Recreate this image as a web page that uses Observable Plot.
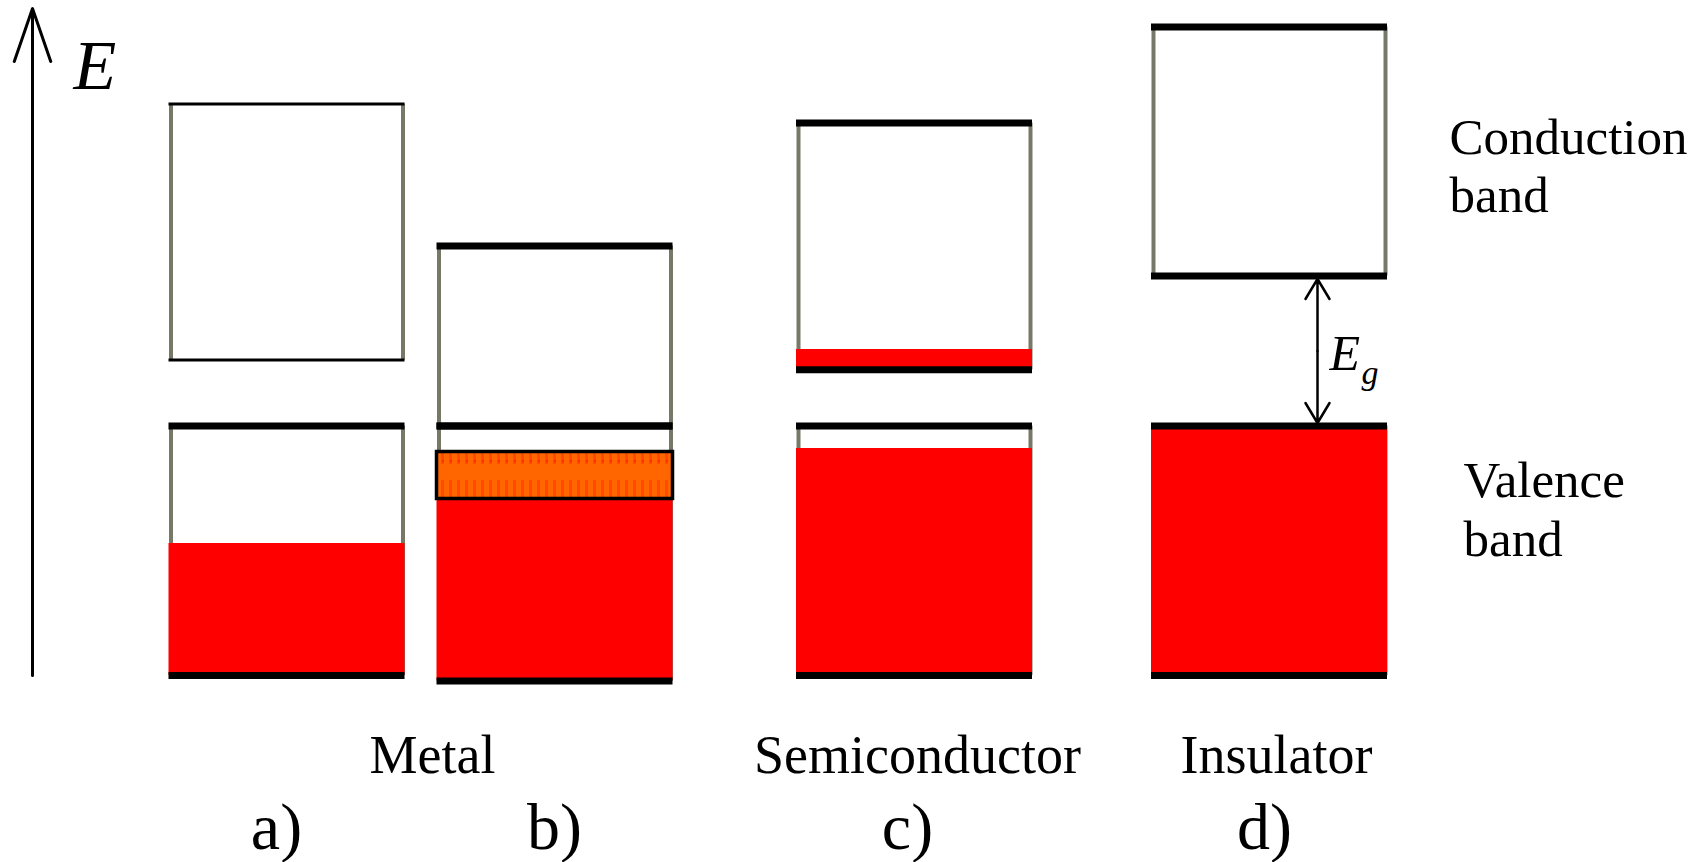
<!DOCTYPE html>
<html><head><meta charset="utf-8">
<script src="https://cdn.jsdelivr.net/npm/d3@7"></script>
<script src="https://cdn.jsdelivr.net/npm/@observablehq/plot@0.6"></script>
<style>
html,body{margin:0;padding:0;background:#fff;}
#chart svg{display:block;}
#chart svg text{font-family:"Liberation Serif","Times New Roman",serif !important;}
g[aria-label="class-labels"] text{letter-spacing:1.5px;}
g[aria-label="band-labels"] text{letter-spacing:1px;}
g[aria-label="panel-labels"] text{letter-spacing:2px;}
</style></head>
<body><div id="chart"></div>
<script>
// ---- data (energy in arbitrary units, valence bottom = 0) ----
const materials = ["a)", "b)", "c)", "d)"];
const materialClass = ["Metal", "Semiconductor", "Insulator"];
const conductionBottom = [3.155, 2.495, 3.057, 3.995];
const conductionTop = [5.715, 4.295, 5.525, 6.485];
const valenceBottom = [0, -0.055, 0, 0];
const valenceTop = [2.495, 2.495, 2.495, 2.495];
const valenceFilled = [1.32, 1.75, 2.27, 2.495];
const conductionFilled = [null, null, 3.26, null];
const overlapBand = [null, [1.765, 2.235], null, null];
const bandNames = ["Conduction\nband", "Valence\nband"];
const energyAxisTop = 6.67;

// ---- layout (positions, not data) ----
const colCenter = [2.865, 5.545, 9.14, 12.69];
const colWidth = 2.36;
const classLabelX = [4.32, 9.17, 12.76];
const panelLabelX = [2.76, 5.54, 9.07, 12.64];
const L = i => colCenter[i] - colWidth / 2;
const R = i => colCenter[i] + colWidth / 2;

const boxes = materials.flatMap((m, i) => [
  {i, band: "conduction", y1: conductionBottom[i], y2: conductionTop[i], thin: i === 0},
  {i, band: "valence", y1: valenceBottom[i], y2: valenceTop[i], thin: false}
]);
const edges = boxes.flatMap(b => [{...b, y: b.y1}, {...b, y: b.y2}]);
const fills = [];
materials.forEach((m, i) => {
  fills.push({i, y1: valenceBottom[i], y2: valenceFilled[i]});
  if (conductionFilled[i] != null) fills.push({i, y1: conductionBottom[i], y2: conductionFilled[i]});
});
const overlaps = overlapBand.map((o, i) => o ? {i, y1: o[0], y2: o[1]} : null).filter(d => d);
const egMid = (conductionBottom[3] + valenceTop[3]) / 2;

const font = "Liberation Serif";

const chart = Plot.plot({
  width: 1704, height: 862, margin: 0,
  x: {domain: [0, 17.04], axis: null},
  y: {domain: [-1.87, 6.75], axis: null},
  style: {background: "#fff"},
  marks: [
    // side borders
    Plot.ruleX(boxes, {x: d => L(d.i), y1: "y1", y2: "y2", dx: 2, stroke: "#787868", strokeWidth: 4}),
    Plot.ruleX(boxes, {x: d => R(d.i), y1: "y1", y2: "y2", dx: -2, stroke: "#787868", strokeWidth: 4}),
    // occupied states
    Plot.rect(fills, {x1: d => L(d.i), x2: d => R(d.i), y1: "y1", y2: "y2", fill: "#ff0000"}),
    Plot.rect(overlaps, {x1: d => L(d.i), x2: d => R(d.i), y1: "y1", y2: "y2", fill: "url(#orangeDither)", stroke: "#000", strokeWidth: 3.5}),
    // band edges
    Plot.ruleY(edges, {y: "y", x1: d => L(d.i), x2: d => R(d.i), stroke: "#000", strokeWidth: d => d.thin ? 3 : 7}),
    // energy axis
    Plot.arrow([{y1: 0, y2: energyAxisTop}], {x1: () => 0.32, x2: () => 0.32, y1: "y1", y2: "y2", stroke: "#000", strokeWidth: 3, headLength: 28, headAngle: 38}),
    Plot.text(["E"], {x: () => 0.73, y: () => 5.87, text: d => d, textAnchor: "start", lineAnchor: "bottom", fontSize: 70, fontStyle: "italic", fontFamily: font, fill: "#000"}),
    // band gap arrow
    Plot.arrow([conductionBottom[3], valenceTop[3]], {x1: () => 13.17, x2: () => 13.17, y1: () => egMid, y2: d => d, stroke: "#000", strokeWidth: 2.5, headLength: 14, headAngle: 62, insetEnd: 3}),
    Plot.text(["E"], {x: () => 13.29, y: () => 3.06, text: d => d, textAnchor: "start", lineAnchor: "bottom", fontSize: 50, fontStyle: "italic", fontFamily: font, fill: "#000"}),
    Plot.text(["g"], {x: () => 13.61, y: () => 2.92, text: d => d, textAnchor: "start", lineAnchor: "bottom", fontSize: 34, fontStyle: "italic", fontFamily: font, fill: "#000"}),
    // band names
    Plot.text(bandNames, {x: (d, i) => [14.49, 14.63][i], y: (d, i) => [4.633, 1.20][i], text: d => d, textAnchor: "start", lineAnchor: "bottom", lineHeight: 1.15, fontSize: 51, fontFamily: font, fill: "#000", ariaLabel: "band-labels"}),
    // class labels
    Plot.text(materialClass, {x: (d, i) => classLabelX[i], y: () => -0.97, text: d => d, textAnchor: "middle", lineAnchor: "bottom", fontSize: 54, fontFamily: font, fill: "#000", ariaLabel: "class-labels"}),
    // panel labels
    Plot.text(materials, {x: (d, i) => panelLabelX[i], y: () => -1.73, text: d => d, textAnchor: "middle", lineAnchor: "bottom", fontSize: 66, fontFamily: font, fill: "#000", ariaLabel: "panel-labels"})
  ]
});
// dithered orange texture for the overlap band
const ns = "http://www.w3.org/2000/svg";
const defs = document.createElementNS(ns, "defs");
defs.innerHTML = '<pattern id="orangeDither" patternUnits="userSpaceOnUse" width="8" height="40">' +
  '<rect width="8" height="40" fill="#ff6600"/>' +
  '<rect x="1" y="0" width="3" height="24" fill="#ff4a00"/>' +
  '<rect x="2" y="20" width="2" height="2" fill="#ff2a00"/>' +
  '</pattern>';
chart.insertBefore(defs, chart.firstChild);
document.getElementById("chart").append(chart);
</script>
</body></html>
